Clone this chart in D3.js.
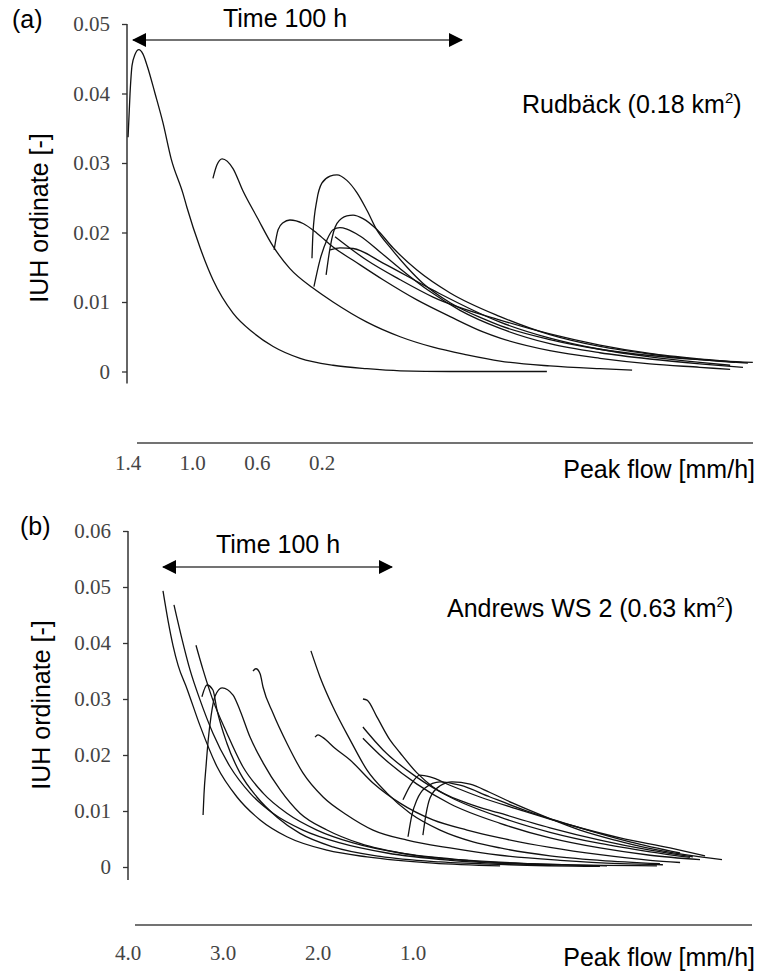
<!DOCTYPE html>
<html><head><meta charset="utf-8">
<script src="https://cdn.jsdelivr.net/npm/d3@7"></script>
<style>body{margin:0;background:#fff}</style>
</head><body>
<script>
// ---------------- DATA ----------------
// Panel (a) Rudbäck: IUH curves as [time in hours, ordinate]
const rudback1 = [[-1.5,.0337],[-0.9,.0400],[-0.3,.0440],[0.6,.0456],[1.8,.0463],[3.0,.0457],[4.3,.0440],[6.7,.0400],[9.1,.0358],[11.6,.0306],[15.2,.0256],[16.4,.0236],[20.4,.0178],[24.3,.0132],[30.4,.0084],[36.5,.0056],[42.6,.0036],[50.8,.0019],[60.8,.0009],[71.1,.0004],[81.2,.0001],[96.4,0],[111.6,0],[125.8,0]];
const rudback2 = [[24.3,.0278],[25.5,.0297],[27.1,.0306],[30.4,.0292],[33.4,.0260],[37.7,.0222],[42.6,.0180],[47.7,.0148],[54.7,.0120],[60.8,.0100],[71.1,.0071],[81.2,.0050],[91.2,.0035],[101.5,.0024],[111.6,.0015],[126.7,.0008],[141.9,.0004],[151.7,.0002]];
const rudback3 = [[42.9,.0175],[44.1,.0204],[45.6,.0214],[47.7,.0218],[51.7,.0213],[55.9,.0199],[60.8,.0179],[66.9,.0160],[76.0,.0132],[86.3,.0103],[96.4,.0079],[106.4,.0057],[111.6,.0048],[126.7,.0030],[141.9,.0019],[157.1,.0011],[172.3,.0006],[181.5,.0003]];
const rudback4 = [[54.4,.0163],[54.7,.0199],[55.9,.0247],[57.4,.0271],[59.9,.0281],[62.0,.0283],[65.0,.0275],[68.1,.0257],[71.1,.0232],[74.2,.0203],[78.1,.0179],[83.3,.0150],[88.1,.0127],[96.4,.0099],[106.4,.0076],[111.6,.0066],[126.7,.0046],[141.9,.0032],[157.1,.0023],[172.3,.0017],[188.4,.0013]];
const rudback5 = [[55.0,.0122],[56.8,.0160],[59.0,.0190],[60.8,.0204],[62.9,.0207],[65.0,.0205],[69.0,.0195],[75.1,.0172],[81.2,.0148],[90.3,.0115],[99.4,.0088],[111.6,.0062],[126.7,.0040],[141.9,.0027],[157.1,.0018],[172.3,.0011],[185.4,.0006]];
const rudback6 = [[58.7,.0139],[59.9,.0178],[62.0,.0213],[65.0,.0224],[66.9,.0225],[69.9,.0220],[74.2,.0204],[79.0,.0178],[86.3,.0146],[96.4,.0113],[111.6,.0079],[126.7,.0053],[141.9,.0036],[157.1,.0025],[172.3,.0017],[183.0,.0013]];
const rudback7 = [[59.9,.0175],[62.9,.0178],[66.9,.0177],[76.0,.0156],[91.2,.0117],[111.6,.0071],[126.7,.0048],[141.9,.0032],[157.1,.0021],[172.3,.0013],[181.5,.0009]];
const rudback8 = [[61.4,.0194],[71.1,.0160],[81.2,.0132],[91.2,.0107],[111.6,.0074],[126.7,.0054],[141.9,.0038],[157.1,.0026],[172.3,.0018],[186.9,.0012]];

// Panel (b) Andrews WS 2
const andrews1 = [[0,.0493],[2.2,.0440],[4.4,.0395],[6.6,.0360],[10.5,.0318],[16.2,.0252],[23.6,.0179],[32.3,.0125],[42.4,.0084],[54.1,.0054],[71.6,.0030],[89.1,.0018],[117.9,.0007],[147.2,.0002]];
const andrews2 = [[4.8,.0468],[8.0,.0412],[11.8,.0352],[16.2,.0298],[21.8,.0239],[29.3,.0179],[38.0,.0132],[48.0,.0096],[61.1,.0066],[77.3,.0043],[97.8,.0025],[125.3,.0012],[167.7,.0004]];
const andrews3 = [[14.4,.0396],[17.5,.0352],[21.8,.0298],[27.9,.0239],[34.9,.0179],[43.7,.0132],[54.1,.0096],[67.2,.0066],[83.0,.0043],[103.5,.0025],[129.7,.0013],[160.3,.0006],[193.9,.0002]];
const andrews4 = [[17.0,.0304],[19.2,.0325],[21.8,.0316],[23.6,.0280],[27.9,.0221],[33.6,.0168],[41.0,.0125],[49.8,.0089],[59.8,.0060],[74.2,.0036],[94.8,.0019],[121.0,.0009],[151.5,.0004],[190.8,.0001]];
const andrews5 = [[17.5,.0093],[17.9,.0130],[18.8,.0180],[19.7,.0225],[21.0,.0270],[22.7,.0305],[25.8,.0320],[30.6,.0307],[33.6,.0280],[38.0,.0232],[43.7,.0186],[51.1,.0138],[59.8,.0096],[71.6,.0066],[86.0,.0042],[107.9,.0022],[134.1,.0011],[164.6,.0005],[215.7,.0002]];
const andrews6 = [[39.3,.0350],[40.6,.0354],[42.4,.0345],[43.7,.0321],[48.0,.0275],[54.1,.0221],[61.1,.0168],[69.9,.0125],[80.3,.0093],[91.7,.0066],[106.6,.0048],[125.3,.0034],[147.2,.0021],[173.4,.0012],[199.6,.0006],[218.3,.0004]];
const andrews7 = [[64.6,.0386],[68.6,.0339],[74.2,.0286],[81.7,.0227],[89.1,.0173],[97.8,.0132],[107.9,.0096],[121.0,.0066],[135.4,.0045],[147.2,.0034],[169.0,.0020],[190.8,.0012],[217.0,.0006]];
const andrews8 = [[66.4,.0232],[67.7,.0236],[69.9,.0231],[75.1,.0212],[81.7,.0191],[91.7,.0150],[103.5,.0114],[117.9,.0084],[132.8,.0066],[147.2,.0052],[169.0,.0035],[190.8,.0022],[212.7,.0012],[225.8,.0008]];
const andrews9 = [[87.3,.0300],[89.1,.0298],[93.4,.0268],[99.1,.0227],[103.5,.0204],[110.9,.0168],[117.9,.0143],[132.8,.0114],[147.2,.0096],[169.0,.0070],[190.8,.0048],[212.7,.0030],[231.4,.0018]];
const andrews10 = [[87.3,.0250],[89.1,.0241],[96.1,.0209],[110.9,.0160],[125.3,.0125],[147.2,.0089],[169.0,.0062],[190.8,.0042],[212.7,.0027],[230.1,.0017]];
const andrews11 = [[87.3,.0230],[96.1,.0195],[110.9,.0148],[125.3,.0113],[147.2,.0078],[169.0,.0052],[190.8,.0034],[212.7,.0021],[234.5,.0013]];
const andrews12 = [[104.8,.0120],[107.9,.0145],[112.2,.0164],[116.6,.0161],[125.3,.0146],[138.4,.0125],[155.9,.0102],[177.7,.0075],[199.6,.0052],[221.4,.0034],[236.7,.0020]];
const andrews13 = [[107.0,.0054],[108.7,.0093],[110.9,.0120],[114.4,.0141],[121.0,.0152],[129.7,.0146],[142.8,.0125],[160.3,.0098],[182.1,.0070],[203.9,.0045],[225.8,.0025]];
const andrews14 = [[113.5,.0057],[114.8,.0093],[116.6,.0123],[121.0,.0145],[126.2,.0152],[134.1,.0148],[142.8,.0133],[152.8,.0114],[166.8,.0090],[182.1,.0066],[197.4,.0048],[211.4,.0034],[227.9,.0022],[244.1,.0013]];

const rudbackCurves = [rudback1,rudback2,rudback3,rudback4,rudback5,rudback6,rudback7,rudback8];
const andrewsCurves = [andrews1,andrews2,andrews3,andrews4,andrews5,andrews6,andrews7,andrews8,andrews9,andrews10,andrews11,andrews12,andrews13,andrews14];

const rudbackYTicks = [0, 0.01, 0.02, 0.03, 0.04, 0.05];
const andrewsYTicks = [0, 0.01, 0.02, 0.03, 0.04, 0.05, 0.06];
const rudbackPeakFlowTicks = [1.4, 1.0, 0.6, 0.2];
const andrewsPeakFlowTicks = [4.0, 3.0, 2.0, 1.0];
const timeSpanHours = [0, 100];

// ---------------- DRAWING ----------------
const svg = d3.select("body").append("svg").attr("width", 762).attr("height", 972);
const SANS = "'Liberation Sans', Arial, sans-serif";
const SERIF = "'Liberation Serif', 'Times New Roman', serif";

const defs = svg.append("defs");
defs.append("marker").attr("id","arr").attr("viewBox","0 0 14 14")
  .attr("refX",13).attr("refY",7).attr("markerWidth",14).attr("markerHeight",14)
  .attr("markerUnits","userSpaceOnUse").attr("orient","auto-start-reverse")
  .append("path").attr("d","M0,0L14,7L0,14Z").attr("fill","#000");

function panel(cfg) {
  const g = svg.append("g");
  const x = d3.scaleLinear().domain(timeSpanHours).range(cfg.timeRange);
  const y = d3.scaleLinear().domain([0, cfg.yMax]).range([cfg.yZero, cfg.yTop]);
  const pf = d3.scaleLinear().domain(cfg.pfDomain).range(cfg.pfRange);

  // y axis
  const yAxis = d3.axisLeft(y).tickValues(cfg.yTicks).tickSize(5).tickPadding(12)
    .tickFormat(d => d === 0 ? "0" : d.toFixed(2));
  const ya = g.append("g").attr("transform", `translate(${cfg.axisX},0)`).call(yAxis);
  ya.select(".domain").remove();
  ya.selectAll(".tick line").attr("stroke", "#333").attr("stroke-width", 1.3);
  ya.selectAll(".tick text").attr("font-family", SERIF).attr("font-size", 21).attr("fill", "#444");
  g.append("line").attr("x1", cfg.axisX).attr("x2", cfg.axisX)
    .attr("y1", y(cfg.yMax)).attr("y2", y(0) + cfg.axisExt)
    .attr("stroke", "#333").attr("stroke-width", 1.5);

  // y label
  g.append("text").attr("transform", `translate(${cfg.ylabX},${cfg.ylabY}) rotate(-90)`)
    .attr("text-anchor", "middle").attr("font-family", SANS).attr("font-size", 25)
    .attr("fill", "#000").text("IUH ordinate [-]");

  // panel letter
  g.append("text").attr("x", cfg.letterX).attr("y", cfg.letterY).attr("font-family", SANS)
    .attr("font-size", 25).text(cfg.letter);

  // time arrow
  g.append("line").attr("x1", x(timeSpanHours[0])).attr("x2", x(timeSpanHours[1]))
    .attr("y1", cfg.arrowY).attr("y2", cfg.arrowY).attr("stroke", "#444").attr("stroke-width", 1.6)
    .attr("marker-start", "url(#arr)").attr("marker-end", "url(#arr)");
  g.append("text").attr("x", cfg.timeLabelX).attr("y", cfg.timeLabelY).attr("text-anchor", "middle")
    .attr("font-family", SANS).attr("font-size", 25).text("Time 100 h");

  // catchment label
  const t = g.append("text").attr("x", cfg.nameX).attr("y", cfg.nameY)
    .attr("font-family", SANS).attr("font-size", 25);
  t.append("tspan").text(cfg.name + " km");
  t.append("tspan").attr("font-size", 15).attr("dy", -10).text("2");
  t.append("tspan").attr("dy", 10).text(")");

  // curves
  const line = d3.line().x(d => x(d[0])).y(d => y(d[1])).curve(d3.curveMonotoneX);
  g.append("g").selectAll("path").data(cfg.curves).join("path")
    .attr("d", line).attr("fill", "none").attr("stroke", "#111").attr("stroke-width", 1.3);

  // peak flow axis
  g.append("line").attr("x1", cfg.pfLine[0]).attr("x2", cfg.pfLine[1])
    .attr("y1", cfg.pfY).attr("y2", cfg.pfY).attr("stroke", "#444").attr("stroke-width", 1.6);
  g.append("g").selectAll("text").data(cfg.pfTicks).join("text")
    .attr("x", d => pf(d)).attr("y", cfg.pfLabelY).attr("text-anchor", "middle")
    .attr("font-family", SERIF).attr("font-size", 21).attr("fill", "#444")
    .text(d => d.toFixed(1));
  g.append("text").attr("x", 755).attr("y", cfg.pfTitleY).attr("text-anchor", "end")
    .attr("font-family", SANS).attr("font-size", 25).text("Peak flow [mm/h]");
}

panel({
  curves: rudbackCurves, yTicks: rudbackYTicks, yMax: 0.05, yZero: 371.5, yTop: 24,
  axisX: 127, axisExt: 12, timeRange: [133, 462],
  pfDomain: [1.4, 0.2], pfRange: [128, 322], pfTicks: rudbackPeakFlowTicks,
  pfLine: [137, 753], pfY: 443, pfLabelY: 470, pfTitleY: 478,
  ylabX: 48, ylabY: 218, letter: "(a)", letterX: 12, letterY: 28,
  arrowY: 40, timeLabelX: 285, timeLabelY: 27,
  name: "Rudbäck (0.18", nameX: 522, nameY: 113
});
panel({
  curves: andrewsCurves, yTicks: andrewsYTicks, yMax: 0.06, yZero: 867, yTop: 531,
  axisX: 128, axisExt: 13, timeRange: [163, 392],
  pfDomain: [4, 1], pfRange: [128, 413], pfTicks: andrewsPeakFlowTicks,
  pfLine: [135, 752], pfY: 925, pfLabelY: 960, pfTitleY: 966,
  ylabX: 50, ylabY: 705, letter: "(b)", letterX: 20, letterY: 535,
  arrowY: 567, timeLabelX: 278, timeLabelY: 553,
  name: "Andrews WS 2 (0.63", nameX: 447, nameY: 617
});
</script>
</body></html>
